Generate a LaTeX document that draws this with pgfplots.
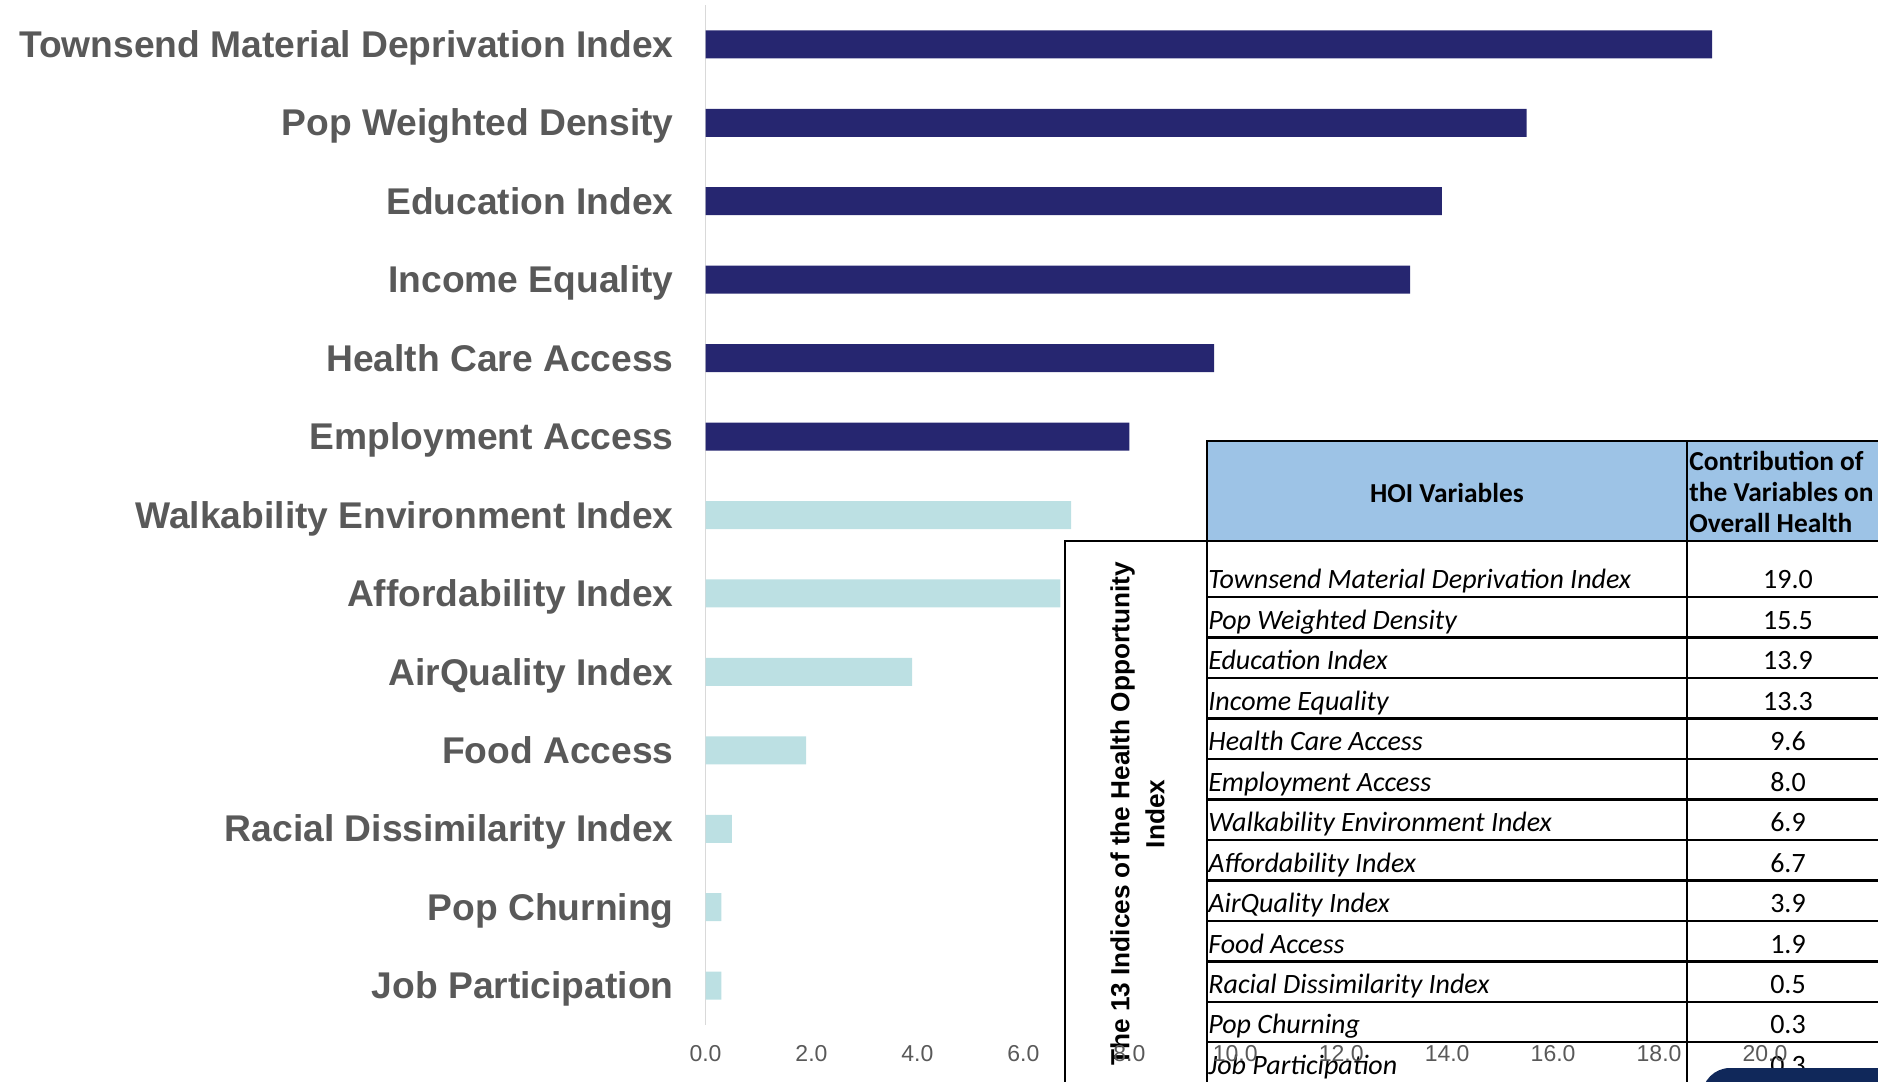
\documentclass[border=0pt]{standalone}
\usepackage{pgfplots}
\pgfplotsset{compat=1.18}
\usepackage{fontspec}
\setmainfont{Liberation Sans}
\newfontfamily\tabfont{Carlito}
\definecolor{navy}{RGB}{38,38,112}
\definecolor{lteal}{RGB}{188,224,227}
\definecolor{lblgray}{RGB}{89,89,89}
\definecolor{axgray}{RGB}{217,217,217}
\definecolor{hdrblue}{RGB}{157,195,230}
\definecolor{darknavy}{RGB}{16,40,90}
\begin{document}
\begin{tikzpicture}
\path[use as bounding box] (0,0) rectangle (939pt,540.5pt);
\begin{scope}
\clip (0,0) rectangle (939pt,540.5pt);
\begin{scope}[x=0.5pt,y=-0.5pt,shift={(0pt,540.5pt)}]
  % header
  \fill[hdrblue] (1207,441) rectangle (1960,541);
  \begin{scope}[line width=1.1pt, black]
    \draw (1207,541) -- (1207,441) -- (1960,441);
    \draw (1065,1120) -- (1065,541) -- (1960,541);
    \draw (1207,541) -- (1207,1120);
    \draw (1687,441) -- (1687,1120);
    \foreach \b in {597,637.5,678,718.5,759,799.5,840,880.5,921,961.5,1002,1042}
      \draw (1207,\b) -- (1960,\b);
  \end{scope}
  \node[font=\tabfont\bfseries\fontsize{13.7pt}{16pt}\selectfont, inner sep=0pt] at (1447,493) {HOI Variables};
  \node[font=\tabfont\bfseries\fontsize{13.7pt}{16pt}\selectfont, anchor=base west, inner sep=0pt] at (1689,470.7) {Contribution of};
  \node[font=\tabfont\bfseries\fontsize{13.7pt}{16pt}\selectfont, anchor=base west, inner sep=0pt] at (1689,501.7) {the Variables on};
  \node[font=\tabfont\bfseries\fontsize{13.7pt}{16pt}\selectfont, anchor=base west, inner sep=0pt] at (1689,532.7) {Overall Health};
  \foreach \n/\v/\b in {Townsend Material Deprivation Index/19.0/597,
      Pop Weighted Density/15.5/637.5,
      Education Index/13.9/678,
      Income Equality/13.3/718.5,
      Health Care Access/9.6/759,
      Employment Access/8.0/799.5,
      Walkability Environment Index/6.9/840,
      Affordability Index/6.7/880.5,
      AirQuality Index/3.9/921,
      Food Access/1.9/961.5,
      Racial Dissimilarity Index/0.5/1002,
      Pop Churning/0.3/1042,
      Job Participation/0.3/1082.5} {
    \node[font=\tabfont\itshape\fontsize{14pt}{16pt}\selectfont, anchor=base west, inner sep=0pt] at (1208,\b-8) {\n};
    \node[font=\tabfont\fontsize{14pt}{16pt}\selectfont, anchor=base, inner sep=0pt] at (1788,\b-8) {\v};
  }
  \node[rotate=90, align=center, inner sep=0pt,
        font=\bfseries\fontsize{13.1pt}{17.5pt}\selectfont] at (1137.5,814)
        {The 13 Indices of the Health Opportunity\\Index};
  \fill[darknavy, rounded corners=14pt] (1702,1110) -- (1702,1068) -- (1990,1068) -- (1990,1110) -- cycle;
\end{scope}
\end{scope}
\begin{axis}[
  at={(352.75pt,28.05pt)}, anchor=south west,
  scale only axis, width=529.75pt, height=509.9pt,
  xmin=0, xmax=20, ymin=-0.5, ymax=12.5, y dir=reverse,
  xbar, bar width=14pt,
  axis lines*=left,
  axis line style={-},
  x axis line style={draw=none},
  y axis line style={draw=axgray, line width=0.75pt},
  xtick={0,2,...,20},
  ytick={0,1,...,12},
  yticklabels={Townsend Material Deprivation Index, Pop Weighted Density, Education Index, Income Equality, Health Care Access, Employment Access, Walkability Environment Index, Affordability Index, AirQuality Index, Food Access, Racial Dissimilarity Index, Pop Churning, Job Participation},
  major tick length=0pt,
  tick style={draw=none},
  /pgf/number format/assume math mode=true,
  xticklabel={\pgfmathprintnumber[fixed,fixed zerofill,precision=1]{\tick}},
  xticklabel style={font=\fontsize{11.5pt}{13pt}\selectfont, text=lblgray, anchor=center, yshift=-14.5pt},
  yticklabel style={font=\bfseries\fontsize{18.6pt}{22pt}\selectfont, text=lblgray, anchor=east, xshift=-15.75pt, yshift=-3pt, inner sep=0pt, text height=0.716em, text depth=0pt},
  clip=false,
]
\addplot[fill=navy, draw=none, bar shift=0pt] coordinates {(19.0,0) (15.5,1) (13.9,2) (13.3,3) (9.6,4) (8.0,5)};
\addplot[fill=lteal, draw=none, bar shift=0pt] coordinates {(6.9,6) (6.7,7) (3.9,8) (1.9,9) (0.5,10) (0.3,11) (0.3,12)};
\end{axis}
\end{tikzpicture}
\end{document}
